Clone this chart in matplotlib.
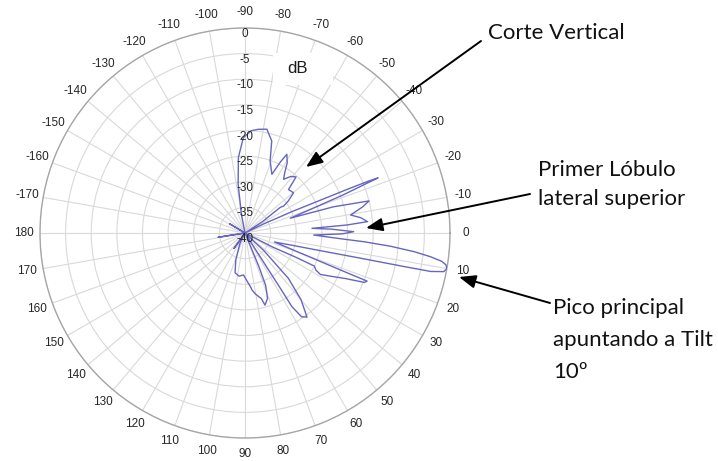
import numpy as np
import matplotlib
matplotlib.use("Agg")
import matplotlib.pyplot as plt
import matplotlib.transforms as mtransforms
from matplotlib.patches import Rectangle

# Vertical cut of the antenna pattern, gain in dB relative to the peak.
# Angles follow the chart convention: 0 to the right, positive clockwise.
angle_deg = [
    -180, -152, -149, -146, -106, -101, -98, -95, -91, -86.5, -82.7, -78.1,
    -73.8, -70.8, -65.4, -63.5, -62, -59, -56.5, -54.3, -51, -47.7, -45,
    -39.6, -36.5, -34.9, -36, -33, -30, -26, -24.5, -23.6, -23.1, -22.8,
    -22.5, -22.2, -21.2, -20.2, -18.1, -16.5, -14.5, -12.5, -9.7, -7.5,
    -5.3, -4.5, -4, -2.5, -0.7, 0.5, 1.7, 3.5, 4.2, 5.2, 6.3, 7.3, 8.2, 9,
    10, 11, 11.7, 11.9, 12.3, 13.3, 14.7, 17, 20.7, 21.3, 21.5, 22.5, 24.4,
    26.5, 28.8, 27.6, 25.5, 25.5, 27, 30, 40, 43, 46.3, 50, 53.6, 56, 57.5,
    57.4, 57.5, 59, 65, 67.5, 68.5, 71, 74.5, 76, 80.6, 83, 84.5, 86, 92,
    98, 104, 109, 116, 118, 123, 125.5, 128, 169, 171, 173, 180,
]
gain_db = [
    -40, -40, -36.5, -40, -40, -36.4, -30.4, -25.2, -21.4, -20, -19.6, -19.3,
    -21.3, -25.1, -27.4, -24.5, -22.6, -24, -26, -27.1, -25.8, -25.2, -28,
    -27.7, -29.5, -30.8, -31.5, -36, -40, -36, -30, -24.7, -18, -14,
    -11.9, -14.2, -19.5, -25, -30.7, -22, -15, -16.5, -19.1, -17.2,
    -16, -20, -26.9, -23, -18.8, -21, -26.6, -21, -16.7, -11.5, -6.8, -3.5, -1.2, -0.3,
    0, -0.5, -3, -8, -16.8, -25.5, -30.7, -34, -24.3, -18.3, -14.4, -14.8, -18.5,
    -21, -23.2, -24.4, -25, -29, -34, -40, -40, -35, -27.7, -23, -19.6, -20.3, -23,
    -27.9, -33, -40, -40, -33, -29, -26.5, -25.4, -26.8, -28, -28.8, -29.6, -30.1, -31.8,
    -31.5, -32, -34.5, -37.8, -40, -40, -36.3, -40, -40, -34.7, -40, -40,
]

floor_db = -40
ring_db = [0, -5, -10, -15, -20, -25, -30, -35, -40]
spoke_deg = list(range(-170, 190, 10))

callout_text = [
    ["Corte Vertical"],
    ["Primer Lóbulo", "lateral superior"],
    ["Pico principal", "apuntando a Tilt", "10º"],
]

plt.rcParams["font.family"] = ["Liberation Sans", "DejaVu Sans"]

W, H = 718, 461
fig = plt.figure(figsize=(W / 100, H / 100), dpi=100)


def fpx(x, y):
    # pixel position measured from the top-left corner -> figure fraction
    return x / W, 1 - y / H


cx, cy, R = 245, 233, 205
ax = fig.add_axes([(cx - R) / W, (H - cy - R) / H, 2 * R / W, 2 * R / H],
                  projection="polar")
ax.set_theta_zero_location("E")
ax.set_theta_direction(-1)

r = np.clip(np.array(gain_db) - floor_db, 0, None)
ax.plot(np.deg2rad(np.mod(angle_deg, 360)), r, color="#6666c0", lw=1.0, zorder=3)

ax.set_thetagrids(np.mod(spoke_deg, 360), labels=[])
ax.set_xlim(0, 2 * np.pi)
ax.set_ylim(0, -floor_db)
ax.set_yticks([v - floor_db for v in ring_db[:-1]])
ax.set_yticklabels([])
ax.grid(color="#d9d9d9", lw=0.8)
ax.spines["polar"].set_color("#a6a6a6")
ax.spines["polar"].set_linewidth(1.0)

# angle labels just outside the rim
for a in spoke_deg:
    t = np.deg2rad(a)
    out = mtransforms.offset_copy(ax.transData, fig=fig, x=16 * np.cos(t),
                                  y=-16 * np.sin(t), units="dots")
    ax.text(t % (2 * np.pi), -floor_db, str(a), transform=out, ha="center",
            va="center", fontsize=8.5, color="#262626", clip_on=False)

# ring values written down the -90 spoke
below = mtransforms.offset_copy(ax.transData, fig=fig, x=0, y=-6, units="dots")
for v in ring_db:
    ax.text(np.deg2rad(270), v - floor_db, str(v), transform=below,
            ha="center", va="center", fontsize=8.5, color="#262626", zorder=4)

# unit label on its white patch
x0, y0 = fpx(273, 85)
x1, y1 = fpx(333, 53)
fig.add_artist(Rectangle((x0, y0), x1 - x0, y1 - y0, transform=fig.transFigure,
                         facecolor="white", edgecolor="none", zorder=2))
fig.text(*fpx(298, 68), "dB", ha="center", va="center", fontsize=12,
         color="#1a1a1a", zorder=3)

# callouts
text_pos = [(488, [33]), (538, [170, 199]), (553, [308, 340, 372])]
for lines, (tx, tys) in zip(callout_text, text_pos):
    for line, ty in zip(lines, tys):
        fig.text(*fpx(tx, ty), line, ha="left", va="center", fontsize=16,
                 family=["Lato", "DejaVu Sans"], color="#111111")

arrows = [((481, 41), (306, 167)), ((530, 194), (366, 228)), ((550, 303), (459, 277))]
for (sx, sy), (ex, ey) in arrows:
    ax.annotate("", xy=(ex, H - ey), xycoords="figure pixels",
                xytext=(sx, H - sy), textcoords="figure pixels",
                arrowprops=dict(arrowstyle="-|>,head_length=0.5,head_width=0.2",
                                mutation_scale=20, lw=1.4, color="black",
                                shrinkA=0, shrinkB=0))

fig.savefig("out.png", dpi=100)
